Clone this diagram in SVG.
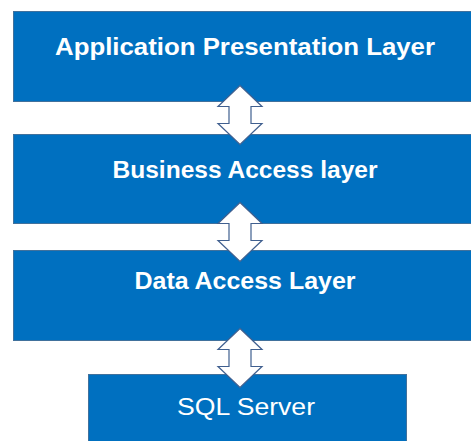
<svg xmlns="http://www.w3.org/2000/svg" width="471" height="441" viewBox="0 0 471 441">
<defs>
<style>
.box{fill:#0070C0;stroke:#41719C;stroke-width:1}
.lbl{fill:#ffffff;font-family:"Liberation Sans",Arial,sans-serif;font-size:24px;text-anchor:middle}
.b{font-weight:bold}
.arr{fill:#ffffff;stroke:#3F5F8F;stroke-width:1.2;stroke-linejoin:miter}
</style>
<path id="dbl" d="M0,0 L22,21 L11,21 L11,38 L22,38 L0,59 L-22,38 L-11,38 L-11,21 L-22,21 Z"/>
</defs>
<rect width="471" height="441" fill="#ffffff"/>
<g id="app-layer">
<rect class="box" x="13.5" y="11.5" width="470" height="90"/>
<text class="lbl b" x="245" y="55" textLength="380" lengthAdjust="spacingAndGlyphs">Application Presentation Layer</text>
</g>
<g id="business-layer">
<rect class="box" x="13.5" y="134.5" width="470" height="89"/>
<text class="lbl b" x="245" y="178" textLength="265" lengthAdjust="spacingAndGlyphs">Business Access layer</text>
</g>
<g id="data-layer">
<rect class="box" x="13.5" y="250.5" width="470" height="90"/>
<text class="lbl b" x="245" y="289" textLength="221" lengthAdjust="spacingAndGlyphs">Data Access Layer</text>
</g>
<g id="sql-server">
<rect class="box" x="88.5" y="374.5" width="318" height="80"/>
<text class="lbl" x="246" y="415" textLength="138" lengthAdjust="spacingAndGlyphs">SQL Server</text>
</g>
<g id="connectors">
<use href="#dbl" class="arr" transform="translate(240,85.5)"/>
<use href="#dbl" class="arr" transform="translate(240,202.5)"/>
<use href="#dbl" class="arr" transform="translate(240,328.5)"/>
</g>
</svg>
